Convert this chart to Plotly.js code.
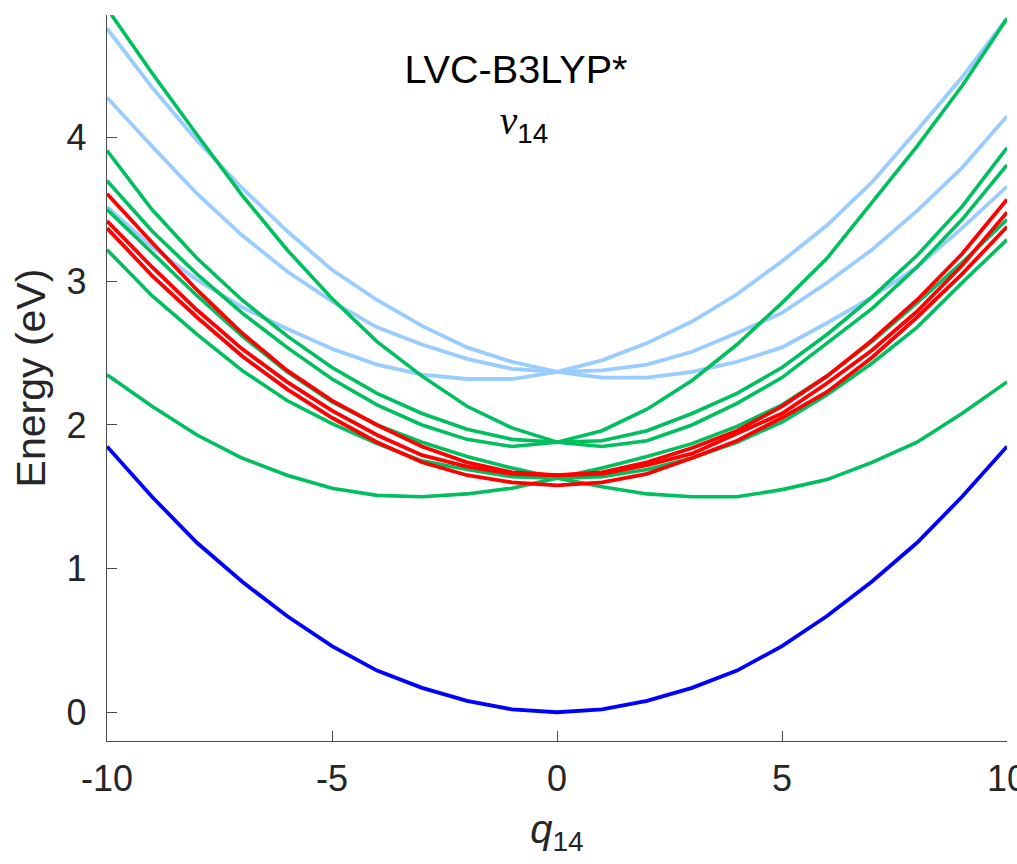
<!DOCTYPE html>
<html>
<head>
<meta charset="utf-8">
<script src="https://cdn.plot.ly/plotly-3.0.1.min.js"></script>
<style>
  html, body { margin: 0; padding: 0; background: #ffffff; }
  #chart { width: 1017px; height: 864px; }
</style>
</head>
<body>
<div id="chart"></div>
<script>
// Displacement along normal mode 14 (dimensionless)
const q = [-10, -9, -8, -7, -6, -5, -4, -3, -2, -1, 0, 1, 2, 3, 4, 5, 6, 7, 8, 9, 10];

// Ground state (eV)
const groundState = [1.85, 1.50, 1.18, 0.91, 0.67, 0.46, 0.29, 0.17, 0.08, 0.02, 0.00,
                     0.02, 0.08, 0.17, 0.29, 0.46, 0.67, 0.91, 1.18, 1.50, 1.85];

// Red states (eV)
const red1 = [3.61, 3.27, 2.94, 2.64, 2.38, 2.17, 2.00, 1.85, 1.74, 1.67, 1.65,
              1.67, 1.74, 1.84, 1.96, 2.13, 2.34, 2.59, 2.87, 3.19, 3.57];
const red2 = [3.42, 3.10, 2.80, 2.53, 2.30, 2.10, 1.93, 1.79, 1.71, 1.66, 1.65,
              1.66, 1.72, 1.80, 1.94, 2.08, 2.29, 2.52, 2.79, 3.11, 3.48];
const red3 = [3.37, 3.04, 2.75, 2.48, 2.25, 2.05, 1.88, 1.74, 1.65, 1.60, 1.58,
              1.60, 1.66, 1.77, 1.89, 2.05, 2.23, 2.47, 2.75, 3.05, 3.38];

// Green states (eV)
const green1 = [4.90, 4.45, 4.02, 3.60, 3.22, 2.88, 2.58, 2.34, 2.13, 1.98, 1.88,
                1.96, 2.11, 2.31, 2.56, 2.85, 3.16, 3.55, 3.94, 4.36, 4.83];
const green2 = [3.91, 3.50, 3.16, 2.87, 2.62, 2.40, 2.22, 2.08, 1.97, 1.90, 1.88,
                1.89, 1.96, 2.08, 2.22, 2.40, 2.63, 2.89, 3.18, 3.52, 3.93];
const green3 = [3.70, 3.35, 3.05, 2.78, 2.54, 2.32, 2.14, 2.00, 1.90, 1.85, 1.88,
                1.85, 1.89, 2.00, 2.15, 2.33, 2.57, 2.81, 3.10, 3.43, 3.81];
const green4 = [3.22, 2.90, 2.63, 2.38, 2.17, 2.01, 1.87, 1.75, 1.69, 1.64, 1.63,
                1.64, 1.69, 1.77, 1.88, 2.02, 2.21, 2.43, 2.68, 2.99, 3.29];
const green5 = [2.35, 2.13, 1.93, 1.77, 1.65, 1.56, 1.51, 1.50, 1.52, 1.56, 1.63,
                1.70, 1.78, 1.87, 1.99, 2.14, 2.34, 2.58, 2.85, 3.13, 3.43];
const green6 = [3.50, 3.20, 2.90, 2.62, 2.37, 2.16, 2.00, 1.88, 1.78, 1.70, 1.63,
                1.57, 1.52, 1.50, 1.50, 1.55, 1.62, 1.74, 1.88, 2.08, 2.30];

// Light-blue states (eV)
const lightBlue1 = [4.76, 4.35, 3.98, 3.65, 3.35, 3.08, 2.87, 2.69, 2.54, 2.44, 2.37,
                    2.33, 2.33, 2.37, 2.44, 2.54, 2.71, 2.89, 3.10, 3.37, 3.66];
const lightBlue2 = [4.28, 3.94, 3.61, 3.32, 3.07, 2.86, 2.68, 2.56, 2.46, 2.39, 2.37,
                    2.38, 2.42, 2.51, 2.64, 2.78, 2.99, 3.22, 3.49, 3.79, 4.15];
const lightBlue3 = [3.52, 3.24, 3.01, 2.82, 2.67, 2.53, 2.42, 2.35, 2.32, 2.32, 2.37,
                    2.45, 2.57, 2.72, 2.91, 3.14, 3.39, 3.69, 4.05, 4.42, 4.83];

// Axis ticks
const xTicks = [-10, -5, 0, 5, 10];
const yTicks = [0, 1, 2, 3, 4];

const COLORS = {
  ground: '#0000ff',
  red: '#ff0000',
  green: '#00bf5f',
  lightBlue: '#99ccff'
};

function line(y, color, width) {
  return {
    x: q, y: y, type: 'scatter', mode: 'lines',
    line: { color: color, width: width },
    hoverinfo: 'skip', showlegend: false
  };
}

const traces = [
  line(lightBlue1, COLORS.lightBlue, 3.8),
  line(lightBlue2, COLORS.lightBlue, 3.8),
  line(lightBlue3, COLORS.lightBlue, 3.8),
  line(green1, COLORS.green, 3.6),
  line(green2, COLORS.green, 3.6),
  line(green3, COLORS.green, 3.6),
  line(green4, COLORS.green, 3.6),
  line(green5, COLORS.green, 3.6),
  line(green6, COLORS.green, 3.6),
  line(red1, COLORS.red, 3.8),
  line(red2, COLORS.red, 3.8),
  line(red3, COLORS.red, 3.8),
  line(groundState, COLORS.ground, 3.8)
];

const FONT = 'Liberation Sans, Arial, Helvetica, sans-serif';
const AXIS_COLOR = '#4a4a4a';
const TEXT_COLOR = '#262626';

const layout = {
  width: 1017,
  height: 864,
  paper_bgcolor: '#ffffff',
  plot_bgcolor: '#ffffff',
  margin: { l: 107, r: 10, t: 15, b: 123, pad: 0 },
  showlegend: false,
  font: { family: FONT, size: 36, color: TEXT_COLOR },
  title: {
    text: 'LVC-B3LYP*<br>\u2009\u2009<span style="font-family:Liberation Serif,serif"><i>ν</i></span><sub>14</sub>',
    font: { family: FONT, size: 39.6, color: '#000000' },
    x: 516 / 1017,
    xanchor: 'center',
    xref: 'container',
    y: 1 - 83 / 864,
    yanchor: 'top',
    yref: 'container'
  },
  xaxis: {
    range: [-10, 10],
    tickvals: xTicks,
    ticktext: xTicks.map(String),
    ticks: 'inside',
    ticklen: 10,
    tickwidth: 1,
    tickcolor: AXIS_COLOR,
    showline: true,
    linecolor: AXIS_COLOR,
    linewidth: 1.2,
    showgrid: false,
    zeroline: false,
    ticklabelstandoff: 6,
    ticklabeloverflow: 'allow',
    tickfont: { family: FONT, size: 36, color: TEXT_COLOR },
    title: {
      text: '<i>q</i><sub>14</sub>',
      font: { family: FONT, size: 40, color: TEXT_COLOR },
      standoff: 16
    },
    automargin: false
  },
  yaxis: {
    range: [-0.2, 4.854],
    tickvals: yTicks,
    ticktext: yTicks.map(String),
    ticks: 'inside',
    ticklen: 10,
    tickwidth: 1,
    tickcolor: AXIS_COLOR,
    showline: true,
    linecolor: AXIS_COLOR,
    linewidth: 1.2,
    showgrid: false,
    zeroline: false,
    ticklabelstandoff: 12,
    tickfont: { family: FONT, size: 36, color: TEXT_COLOR },
    title: {
      text: 'Energy (eV)',
      font: { family: FONT, size: 41, color: TEXT_COLOR },
      standoff: 8
    },
    automargin: false
  },
  yaxis2: {
    overlaying: 'y',
    side: 'right',
    anchor: 'x',
    matches: 'y',
    range: [-0.2, 4.854],
    tickvals: yTicks,
    ticks: 'inside',
    ticklen: 10,
    tickwidth: 1,
    tickcolor: AXIS_COLOR,
    showticklabels: false,
    showline: true,
    linecolor: AXIS_COLOR,
    linewidth: 1.2,
    showgrid: false,
    zeroline: false
  }
};

Plotly.newPlot('chart', traces, layout, { staticPlot: true, displayModeBar: false });
</script>
</body>
</html>
